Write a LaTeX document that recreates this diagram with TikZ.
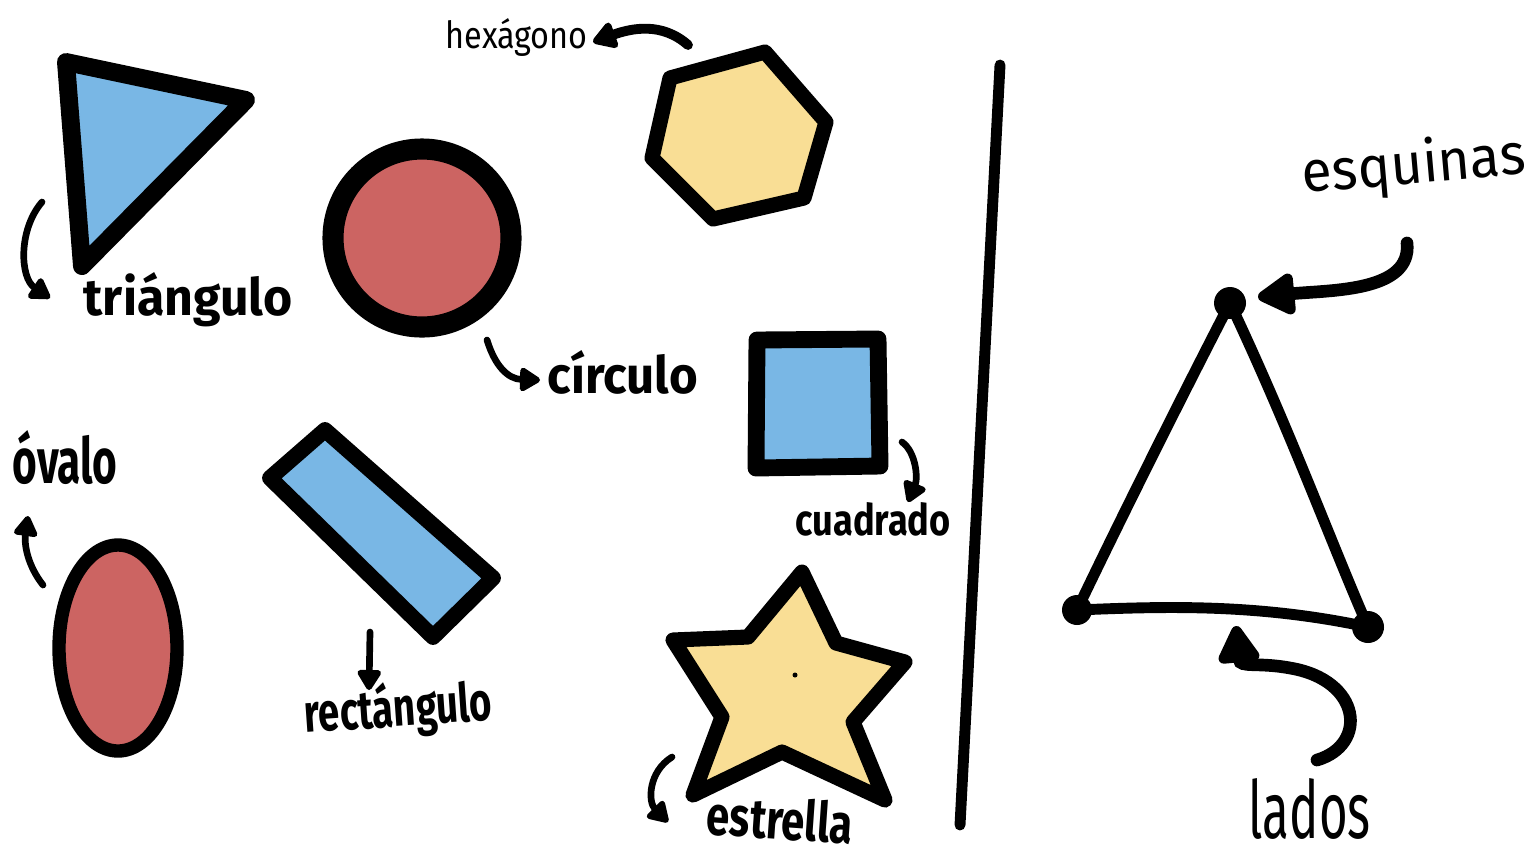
\documentclass[tikz,border=0pt]{standalone}
\usepackage{fontspec}
\setmainfont{Fira Sans}
\usetikzlibrary{arrows.meta}
\newlength\pxu \setlength\pxu{0.01cm}
\newcommand{\hw}[3]{\resizebox{#1\pxu}{#2\pxu}{#3}}
\definecolor{shblue}{HTML}{79B7E5}
\definecolor{shred}{HTML}{CC6462}
\definecolor{shyellow}{HTML}{F9DE95}
\begin{document}
\begin{tikzpicture}[x=0.01cm,y=-0.01cm,
  shp/.style={draw=black,line join=round,line cap=round},
  lbl/.style={inner sep=0pt,anchor=base west,text=black},
  arrs/.style={draw=black,line cap=round,line width=1.9pt,-{Triangle[length=6.5pt,width=7.5pt,round]}},
  arrm/.style={draw=black,line cap=round,line width=2.8pt,-{Triangle[length=7.5pt,width=8.5pt,round]}},
  arrb/.style={draw=black,line cap=round,line width=3.6pt,-{Triangle[length=12pt,width=13pt,round]}},
  sideline/.style={draw=black,line width=3.1pt,line cap=round,line join=round},
  cornerdot/.style={fill=black}
]
\useasboundingbox (0,0) rectangle (1534,857);
\fill[white] (0,0) rectangle (1534,857);

% ---------- shapes ----------
% triangle
\path[shp,fill=shblue,line width=5.1pt] (66,62) -- (246,100) -- (82,266) -- cycle;
% circle
\path[shp,fill=shred,line width=6pt] (422,238) circle [radius=89];
% hexagon
\path[shp,fill=shyellow,line width=4.3pt] (670,78) -- (765,52) -- (826,122) -- (804,198) -- (713,219) -- (652,158) -- cycle;
% square
\path[shp,fill=shblue,line width=4.8pt] (757,340) -- (878,339) -- (880,466) -- (756,468) -- cycle;
% oval
\path[shp,fill=shred,line width=3.8pt] (118,648) ellipse [x radius=59, y radius=103];
% rectangle
\path[shp,fill=shblue,line width=4.5pt] (270,478) -- (325,430) -- (493,578) -- (433,637) -- cycle;
% star
\path[shp,fill=shyellow,line width=4.3pt] (802,572) -- (836,643) -- (905,662) -- (853,722) -- (885,800) -- (782,752) -- (693,795) -- (722,717) -- (673,640) -- (748,637) -- cycle;
\fill[black] (795,675) circle [radius=2.5];

% divider
\draw[sideline] (1000,65) -- (960,825);

% right triangle
\coordinate (vt) at (1230,303);
\coordinate (vl) at (1077,610);
\coordinate (vr) at (1368,627);
\draw[sideline] (vt) .. controls (1180,400) and (1120,520) .. (vl);
\draw[sideline] (vt) .. controls (1290,430) and (1330,540) .. (vr);
\draw[sideline] (vl) .. controls (1170,606) and (1260,604) .. (vr);
\fill[cornerdot] (vt) circle [radius=16];
\fill[cornerdot] (vl) circle [radius=15];
\fill[cornerdot] (vr) circle [radius=16];

% ---------- labels ----------
\node[lbl] (thex) at (445,48) {\hw{142}{30}{hexágono}};
\node[lbl] (ttri) at (83,315) {\hw{209}{43}{\bfseries triángulo}};
\node[lbl] (tcir) at (547,393) {\hw{150}{43}{\bfseries círculo}};
\node[lbl] (tcua) at (795,535) {\hw{155}{33}{\bfseries cuadrado}};
\node[lbl,rotate=5] (tesq) at (1303,193) {\hw{224}{45}{esquinas}};
\node[lbl] (tlad) at (1248,838) {\hw{122}{60}{lados}};
\node[lbl] (tova) at (12,483) {\hw{105}{53}{\bfseries óvalo}};
\node[lbl,rotate=4] (trec) at (305,733) {\hw{188}{45}{\bfseries rectángulo}};
\node[lbl,rotate=-4] (test) at (705,834) {\hw{146}{42}{\bfseries estrella}};

% ---------- arrows ----------
\coordinate (a1s) at (42,202);  \coordinate (a1e) at (50,298);
\draw[arrs] (a1s) .. controls (18,230) and (20,278) .. (a1e);
\coordinate (a2s) at (688,45);  \coordinate (a2e) at (593,42);
\draw[arrm] (a2s) .. controls (662,22) and (632,28) .. (a2e);
\coordinate (a3s) at (487,340); \coordinate (a3e) at (540,380);
\draw[arrs] (a3s) .. controls (495,366) and (508,379) .. (a3e);
\coordinate (a4s) at (902,442); \coordinate (a4e) at (908,502);
\draw[arrs] (a4s) .. controls (916,452) and (918,478) .. (a4e);
\coordinate (a5s) at (43,585);  \coordinate (a5e) at (28,516);
\draw[arrs] (a5s) .. controls (28,566) and (24,545) .. (a5e);
\coordinate (a6s) at (370,632); \coordinate (a6e) at (369,690);
\draw[arrs] (a6s) -- (a6e);
\coordinate (a7s) at (672,757); \coordinate (a7e) at (668,822);
\draw[arrs] (a7s) .. controls (648,772) and (648,802) .. (a7e);
\coordinate (a8s) at (1407,243); \coordinate (a8e) at (1258,297);
\draw[arrb] (a8s) .. controls (1412,292) and (1330,290) .. (a8e);
\coordinate (a9s) at (1317,760); \coordinate (a9m) at (1290,668); \coordinate (a9e) at (1236,626);
\draw[arrb] (a9s) .. controls (1368,745) and (1362,680) .. (a9m) .. controls (1258,662) and (1240,668) .. (a9e);
\end{tikzpicture}
\end{document}
